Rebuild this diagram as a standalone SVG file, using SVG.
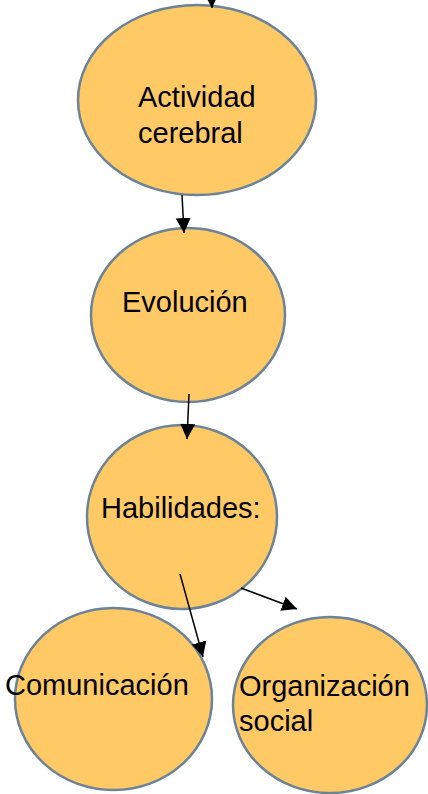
<svg xmlns="http://www.w3.org/2000/svg" width="428" height="794" viewBox="0 0 428 794">
<style>
.node ellipse{fill:#FFCA66;stroke:#6C8296;stroke-width:2.5}
.node text{font-family:"Liberation Sans",Arial,sans-serif;font-size:29px;fill:#000}
.edge{stroke:#000;stroke-width:1.5;fill:none;marker-end:url(#ah)}
</style>
<defs>
<marker id="ah" markerUnits="userSpaceOnUse" markerWidth="17" markerHeight="16" refX="15" refY="7.5" orient="auto">
<path d="M0,0 L15,7.5 L0,15 Z" fill="#000"/>
</marker>
</defs>
<rect width="428" height="794" fill="#fff"/>
<g id="n1" class="node"><ellipse cx="197" cy="100" rx="119" ry="95"/><text x="138" y="107">Actividad</text><text x="138" y="143">cerebral</text></g>
<g id="n2" class="node"><ellipse cx="188" cy="315" rx="97" ry="87"/><text x="122" y="312">Evolución</text></g>
<g id="n3" class="node"><ellipse cx="182" cy="517" rx="95" ry="92"/><text x="101" y="518">Habilidades:</text></g>
<g id="n4" class="node"><ellipse cx="113.5" cy="699" rx="98.5" ry="91"/><text x="5" y="695">Comunicación</text></g>
<g id="n5" class="node"><ellipse cx="330" cy="705" rx="97" ry="88"/><text x="239" y="696">Organización</text><text x="239" y="731">social</text></g>
<g id="connectors">
<line class="edge" x1="211" y1="-20" x2="212" y2="8"/>
<line class="edge" x1="182" y1="195" x2="184" y2="233"/>
<line class="edge" x1="189" y1="394" x2="187" y2="439"/>
<line class="edge" x1="180" y1="574" x2="203" y2="657"/>
<line class="edge" x1="241" y1="588" x2="297" y2="609"/>
</g>
</svg>
